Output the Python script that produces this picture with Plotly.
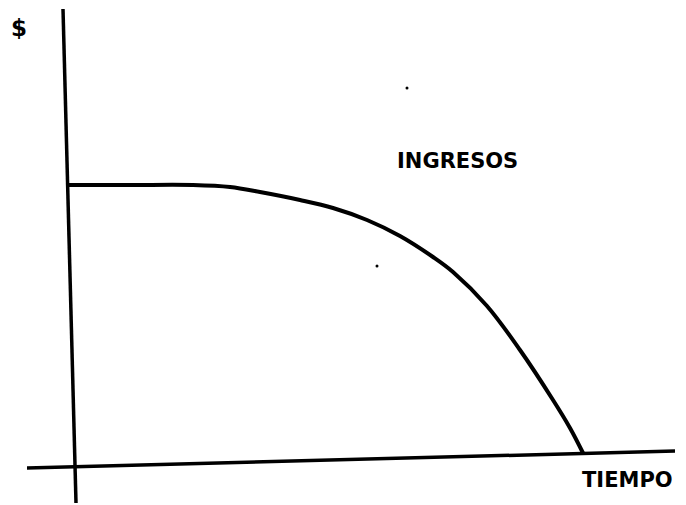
import plotly.graph_objects as go

# Revenue curve (time vs. income), in chart units (origin at axis intersection)
tiempo = [-0.14, 1.12, 2.38, 3.12, 3.72, 4.52, 5.18, 5.86, 6.52, 7.18, 7.58, 8.26, 8.92, 9.58, 9.92, 10.18]
ingresos = [5.64, 5.64, 5.64, 5.60, 5.50, 5.34, 5.18, 4.94, 4.62, 4.20, 3.90, 3.22, 2.34, 1.34, 0.78, 0.28]

# Hand-drawn axis lines (slightly slanted, as in the scan)
eje_y_x = [-0.22, 0.04]
eje_y_y = [9.16, -0.72]
eje_x_x = [-0.94, 12.02]
eje_x_y = [-0.02, 0.32]

# Small specks present in the scanned original
manchas_x = [6.66, 6.06]
manchas_y = [7.58, 4.02]

# Labels
etiquetas = ["$", "INGRESOS", "TIEMPO"]
etiq_x = [-1.10, 7.66, 11.06]
etiq_y = [8.78, 6.12, -0.26]
etiq_size = [23, 21, 21]
etiq_bold = [True, True, True]

fig = go.Figure()
line_style = dict(color="black", width=3.5)
fig.add_trace(go.Scatter(x=eje_y_x, y=eje_y_y, mode="lines", line=line_style, hoverinfo="skip"))
fig.add_trace(go.Scatter(x=eje_x_x, y=eje_x_y, mode="lines", line=line_style, hoverinfo="skip"))
fig.add_trace(go.Scatter(x=tiempo, y=ingresos, mode="lines",
                         line=dict(color="black", width=4, shape="spline", smoothing=1.0),
                         name="INGRESOS"))
fig.add_trace(go.Scatter(x=manchas_x, y=manchas_y, mode="markers",
                         marker=dict(color="black", size=3), hoverinfo="skip"))

for t, xx, yy, s, b in zip(etiquetas, etiq_x, etiq_y, etiq_size, etiq_bold):
    fig.add_annotation(x=xx, y=yy, xref="x", yref="y", text=t, showarrow=False,
                       font=dict(family="DejaVu Sans", size=s, color="black",
                                 weight="bold" if b else "normal"),
                       xanchor="center", yanchor="middle")

fig.update_layout(
    width=686, height=505,
    margin=dict(l=0, r=0, t=0, b=0),
    paper_bgcolor="white", plot_bgcolor="white",
    showlegend=False,
    xaxis=dict(range=[-1.48, 12.24], visible=False, fixedrange=True),
    yaxis=dict(range=[-0.76, 9.34], visible=False, fixedrange=True),
)

fig.write_html("out.html",
               config={"displayModeBar": False},
               post_script="document.body.style.margin='0';document.body.style.overflow='hidden';")
